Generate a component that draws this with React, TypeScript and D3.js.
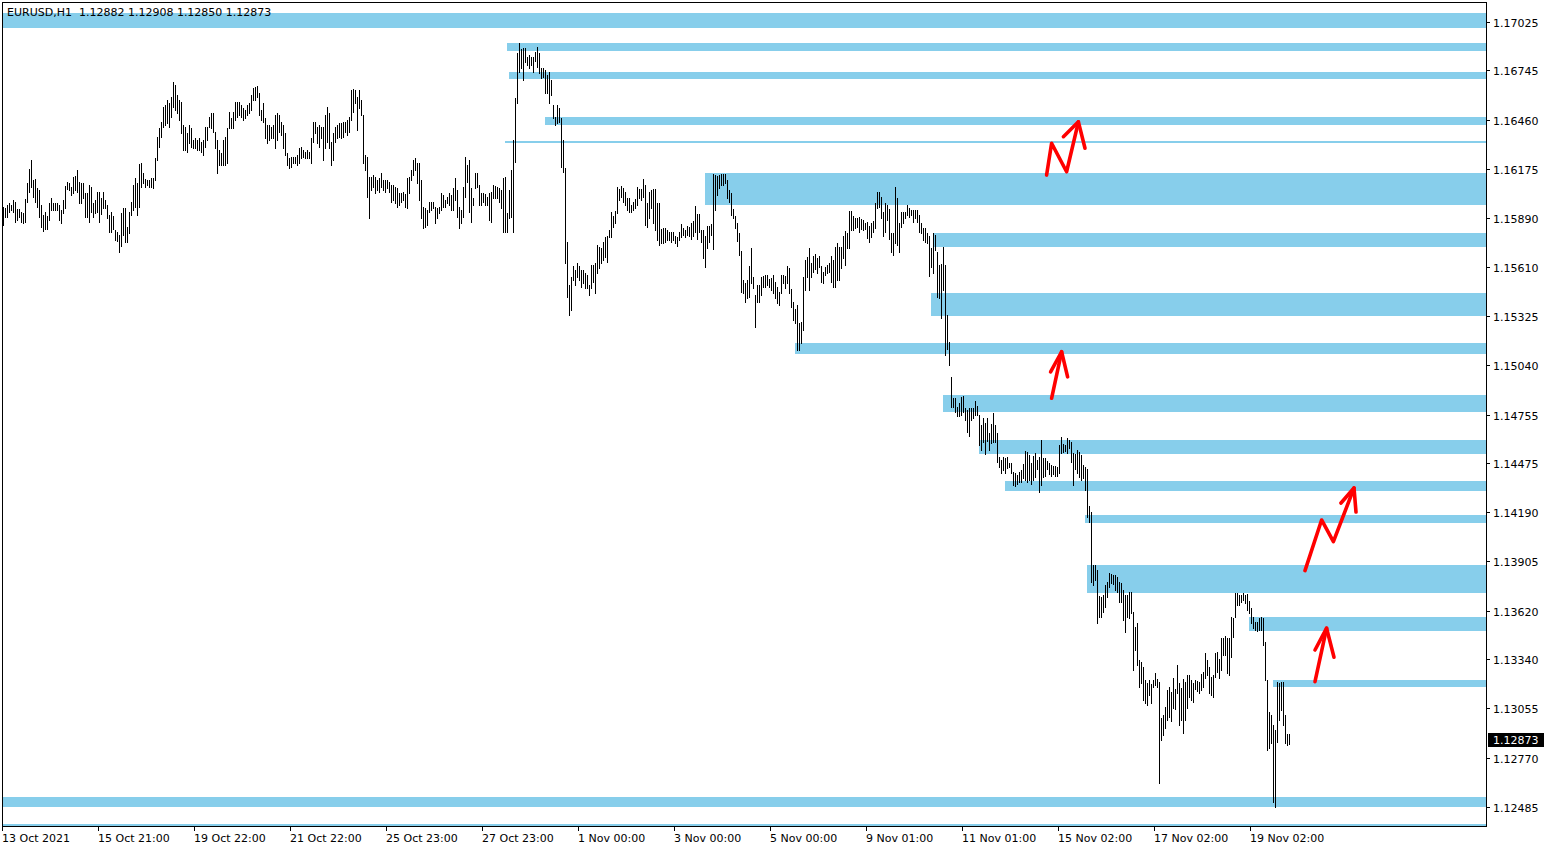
import React from 'react';
import * as d3 from 'd3';

// ---- Chart values (EURUSD H1 bars) ----
const chartTitle = 'EURUSD,H1  1.12882 1.12908 1.12850 1.12873';
const lastPrice = 1.12873;

const highs: number[] = [
  // 0-76
  1.15956, 1.15950, 1.15967, 1.15979, 1.15967, 1.15996, 1.15984, 1.15944, 1.15944, 1.15926,
  1.15921, 1.16001, 1.16094, 1.16175, 1.16227, 1.16111, 1.16117, 1.16065, 1.16053, 1.15967,
  1.15909, 1.15926, 1.15903, 1.15979, 1.16007, 1.15979, 1.15979, 1.15979, 1.15967, 1.15938,
  1.15996, 1.16076, 1.16099, 1.16094, 1.16071, 1.16129, 1.16134, 1.16169, 1.16099, 1.16094,
  1.16094, 1.16036, 1.16036, 1.16082, 1.16071, 1.15979, 1.15996, 1.16041, 1.16041, 1.16007,
  1.16041, 1.15996, 1.15967, 1.15909, 1.15926, 1.15903, 1.15822, 1.15810, 1.15793, 1.15921,
  1.15950, 1.15950, 1.15840, 1.15926, 1.15984, 1.16082, 1.16123, 1.16094, 1.16204, 1.16210,
  1.16152, 1.16117, 1.16111, 1.16111, 1.16123, 1.16123, 1.16239,
  // 77-197
  1.16360, 1.16412, 1.16446, 1.16533, 1.16545, 1.16574, 1.16557, 1.16592, 1.16678, 1.16661,
  1.16603, 1.16574, 1.16562, 1.16429, 1.16418, 1.16383, 1.16429, 1.16412, 1.16343, 1.16354,
  1.16343, 1.16354, 1.16331, 1.16343, 1.16418, 1.16418, 1.16476, 1.16499, 1.16499, 1.16389,
  1.16343, 1.16285, 1.16268, 1.16343, 1.16360, 1.16412, 1.16504, 1.16470, 1.16504, 1.16562,
  1.16562, 1.16562, 1.16545, 1.16528, 1.16516, 1.16545, 1.16557, 1.16603, 1.16644, 1.16649,
  1.16655, 1.16615, 1.16516, 1.16557, 1.16470, 1.16429, 1.16429, 1.16418, 1.16429, 1.16487,
  1.16499, 1.16487, 1.16446, 1.16429, 1.16383, 1.16268, 1.16239, 1.16245, 1.16245, 1.16245,
  1.16256, 1.16297, 1.16302, 1.16285, 1.16273, 1.16285, 1.16273, 1.16354, 1.16446, 1.16446,
  1.16418, 1.16429, 1.16418, 1.16418, 1.16487, 1.16533, 1.16499, 1.16331, 1.16383, 1.16418,
  1.16429, 1.16441, 1.16441, 1.16446, 1.16446, 1.16458, 1.16476, 1.16632, 1.16638, 1.16632,
  1.16592, 1.16632, 1.16574, 1.16487, 1.16256, 1.16245, 1.16129, 1.16129, 1.16140, 1.16129,
  1.16111, 1.16123, 1.16152, 1.16111, 1.16111, 1.16111, 1.16099, 1.16082, 1.16082, 1.16071,
  1.16065,
  // 198-255
  1.16036, 1.16036, 1.16041, 1.16030, 1.16123, 1.16129, 1.16169, 1.16227, 1.16239, 1.16210,
  1.16210, 1.16111, 1.15956, 1.15950, 1.15938, 1.15984, 1.15984, 1.15984, 1.15956, 1.15950,
  1.15956, 1.16036, 1.16024, 1.15996, 1.16013, 1.16036, 1.16024, 1.16065, 1.16123, 1.16053,
  1.15956, 1.15938, 1.16071, 1.16245, 1.16198, 1.16227, 1.16065, 1.16007, 1.16152, 1.16152,
  1.16082, 1.16036, 1.16036, 1.16030, 1.16013, 1.16036, 1.16041, 1.16082, 1.16076, 1.16071,
  1.16065, 1.16053, 1.16123, 1.16129, 1.15921, 1.16053, 1.16169, 1.16343,
  // 256-280
  1.16586, 1.16846, 1.16904, 1.16869, 1.16875, 1.16875, 1.16823, 1.16834, 1.16823, 1.16823,
  1.16851, 1.16880, 1.16846, 1.16759, 1.16759, 1.16747, 1.16718, 1.16736, 1.16690, 1.16545,
  1.16476, 1.16545, 1.16528, 1.16470, 1.16343,
  // 281-373
  1.16181, 1.15752, 1.15504, 1.15550, 1.15614, 1.15591, 1.15632, 1.15614, 1.15591, 1.15591,
  1.15574, 1.15562, 1.15504, 1.15620, 1.15620, 1.15632, 1.15735, 1.15723, 1.15718, 1.15752,
  1.15781, 1.15787, 1.15822, 1.15926, 1.15903, 1.15932, 1.16071, 1.16059, 1.16076, 1.16065,
  1.16041, 1.16007, 1.16007, 1.15967, 1.15984, 1.16001, 1.16071, 1.16059, 1.16059, 1.16117,
  1.16082, 1.15979, 1.16041, 1.16053, 1.16059, 1.16059, 1.15979, 1.15979, 1.15828, 1.15834,
  1.15834, 1.15822, 1.15810, 1.15810, 1.15810, 1.15787, 1.15781, 1.15810, 1.15857, 1.15834,
  1.15822, 1.15845, 1.15840, 1.15863, 1.15874, 1.15961, 1.15915, 1.15915, 1.15822, 1.15822,
  1.15787, 1.15845, 1.15845, 1.15857, 1.16146, 1.16140, 1.16134, 1.16140, 1.16146, 1.16146,
  1.16146, 1.16111, 1.16053, 1.16036, 1.15944, 1.15903, 1.15863, 1.15805, 1.15701, 1.15533,
  1.15516, 1.15533, 1.15614,
  // 374-471
  1.15718, 1.15550, 1.15446, 1.15504, 1.15504, 1.15550, 1.15556, 1.15562, 1.15562, 1.15539,
  1.15545, 1.15562, 1.15521, 1.15493, 1.15464, 1.15562, 1.15562, 1.15556, 1.15614, 1.15603,
  1.15481, 1.15406, 1.15365, 1.15388, 1.15284, 1.15290, 1.15550, 1.15649, 1.15666, 1.15718,
  1.15632, 1.15672, 1.15683, 1.15660, 1.15672, 1.15614, 1.15579, 1.15608, 1.15620, 1.15632,
  1.15672, 1.15649, 1.15723, 1.15747, 1.15723, 1.15723, 1.15787, 1.15816, 1.15805, 1.15932,
  1.15932, 1.15903, 1.15892, 1.15892, 1.15898, 1.15886, 1.15880, 1.15863, 1.15868, 1.15845,
  1.15863, 1.15874, 1.15979, 1.16041, 1.16041, 1.16013, 1.15926, 1.15979, 1.15967, 1.15944,
  1.15805, 1.15805, 1.16071, 1.16007, 1.15863, 1.15926, 1.15926, 1.15926, 1.15967, 1.15950,
  1.15938, 1.15938, 1.15938, 1.15938, 1.15909, 1.15863, 1.15834, 1.15834, 1.15805, 1.15787,
  1.15718, 1.15805, 1.15793, 1.15694, 1.15620, 1.15626, 1.15723, 1.15620,
  // 472-543
  1.15330, 1.15174, 1.14972, 1.14851, 1.14851, 1.14798, 1.14822, 1.14856, 1.14862, 1.14793,
  1.14781, 1.14793, 1.14793, 1.14793, 1.14833, 1.14804, 1.14752, 1.14694, 1.14735, 1.14706,
  1.14735, 1.14648, 1.14700, 1.14764, 1.14694, 1.14648, 1.14509, 1.14492, 1.14509, 1.14504,
  1.14509, 1.14475, 1.14475, 1.14423, 1.14417, 1.14405, 1.14423, 1.14434, 1.14469, 1.14544,
  1.14538, 1.14521, 1.14475, 1.14515, 1.14533, 1.14492, 1.14509, 1.14608, 1.14504, 1.14504,
  1.14486, 1.14475, 1.14463, 1.14457, 1.14457, 1.14452, 1.14579, 1.14625, 1.14584, 1.14579,
  1.14619, 1.14608, 1.14596, 1.14533, 1.14527, 1.14550, 1.14538, 1.14521, 1.14463, 1.14452,
  1.14440, 1.14226,
  // 544-643
  1.14191, 1.13885, 1.13885, 1.13856, 1.13706, 1.13700, 1.13711, 1.13769, 1.13786, 1.13838,
  1.13833, 1.13827, 1.13827, 1.13816, 1.13786, 1.13781, 1.13740, 1.13711, 1.13711, 1.13729,
  1.13729, 1.13613, 1.13526, 1.13550, 1.13335, 1.13323, 1.13294, 1.13220, 1.13202, 1.13220,
  1.13197, 1.13220, 1.13260, 1.13225, 1.13208, 1.13000, 1.13017, 1.13063, 1.13162, 1.13179,
  1.13150, 1.13231, 1.13168, 1.13306, 1.13202, 1.13173, 1.13225, 1.13208, 1.13248, 1.13248,
  1.13220, 1.13202, 1.13220, 1.13214, 1.13208, 1.13254, 1.13266, 1.13375, 1.13335, 1.13294,
  1.13237, 1.13248, 1.13375, 1.13381, 1.13341, 1.13462, 1.13462, 1.13474, 1.13462, 1.13462,
  1.13584, 1.13578, 1.13723, 1.13723, 1.13711, 1.13711, 1.13723, 1.13711, 1.13717, 1.13677,
  1.13636, 1.13584, 1.13555, 1.13555, 1.13578, 1.13584, 1.13578, 1.13439, 1.13220, 1.13034,
  1.13017, 1.12959, 1.12930, 1.13208, 1.13202, 1.13208, 1.13208, 1.13017, 1.12907, 1.12908,
];

const lows: number[] = [
  // 0-76
  1.15851, 1.15898, 1.15898, 1.15926, 1.15938, 1.15926, 1.15868, 1.15880, 1.15898, 1.15868,
  1.15863, 1.15868, 1.15984, 1.16041, 1.16071, 1.16013, 1.15984, 1.15956, 1.15898, 1.15840,
  1.15816, 1.15828, 1.15828, 1.15880, 1.15938, 1.15938, 1.15938, 1.15938, 1.15880, 1.15863,
  1.15921, 1.15950, 1.16059, 1.16053, 1.16024, 1.16036, 1.16053, 1.16041, 1.15979, 1.15979,
  1.16007, 1.15898, 1.15898, 1.15868, 1.15926, 1.15898, 1.15921, 1.15926, 1.15868, 1.15915,
  1.15950, 1.15950, 1.15892, 1.15810, 1.15810, 1.15828, 1.15764, 1.15758, 1.15694, 1.15729,
  1.15793, 1.15752, 1.15752, 1.15805, 1.15909, 1.15938, 1.15956, 1.15909, 1.15956, 1.16071,
  1.16094, 1.16071, 1.16082, 1.16071, 1.16071, 1.16065, 1.16111,
  // 77-197
  1.16227, 1.16302, 1.16360, 1.16418, 1.16429, 1.16441, 1.16418, 1.16476, 1.16533, 1.16516,
  1.16499, 1.16458, 1.16383, 1.16285, 1.16285, 1.16273, 1.16326, 1.16302, 1.16297, 1.16297,
  1.16285, 1.16285, 1.16273, 1.16256, 1.16302, 1.16343, 1.16418, 1.16412, 1.16389, 1.16297,
  1.16152, 1.16198, 1.16198, 1.16198, 1.16198, 1.16210, 1.16412, 1.16412, 1.16412, 1.16458,
  1.16476, 1.16487, 1.16476, 1.16458, 1.16470, 1.16487, 1.16499, 1.16516, 1.16574, 1.16574,
  1.16592, 1.16487, 1.16458, 1.16446, 1.16354, 1.16326, 1.16343, 1.16354, 1.16354, 1.16297,
  1.16343, 1.16389, 1.16372, 1.16297, 1.16256, 1.16198, 1.16181, 1.16187, 1.16210, 1.16210,
  1.16198, 1.16210, 1.16239, 1.16245, 1.16239, 1.16239, 1.16239, 1.16210, 1.16331, 1.16383,
  1.16326, 1.16302, 1.16354, 1.16227, 1.16297, 1.16331, 1.16297, 1.16198, 1.16227, 1.16331,
  1.16354, 1.16360, 1.16354, 1.16360, 1.16389, 1.16372, 1.16389, 1.16458, 1.16504, 1.16557,
  1.16400, 1.16528, 1.16487, 1.16210, 1.16169, 1.16013, 1.15892, 1.16053, 1.16071, 1.16036,
  1.16053, 1.16041, 1.16071, 1.16053, 1.16041, 1.16065, 1.16041, 1.15984, 1.15996, 1.15979,
  1.15956,
  // 198-255
  1.15967, 1.15984, 1.15996, 1.15956, 1.15950, 1.16036, 1.16111, 1.16140, 1.16169, 1.16094,
  1.15996, 1.15892, 1.15834, 1.15840, 1.15851, 1.15926, 1.15938, 1.15950, 1.15863, 1.15892,
  1.15921, 1.15938, 1.15956, 1.15956, 1.15979, 1.15967, 1.15938, 1.15938, 1.15996, 1.15898,
  1.15834, 1.15863, 1.15898, 1.16013, 1.16099, 1.15926, 1.15868, 1.15967, 1.16065, 1.16071,
  1.15967, 1.15967, 1.15984, 1.15967, 1.15967, 1.15880, 1.15868, 1.16007, 1.16007, 1.16007,
  1.15984, 1.15950, 1.15810, 1.15810, 1.15810, 1.15892, 1.15898, 1.15810,
  // 256-280
  1.16216, 1.16557, 1.16736, 1.16759, 1.16690, 1.16793, 1.16776, 1.16759, 1.16776, 1.16736,
  1.16799, 1.16765, 1.16730, 1.16701, 1.16707, 1.16615, 1.16615, 1.16557, 1.16603, 1.16470,
  1.16429, 1.16441, 1.16446, 1.16187, 1.16158,
  // 281-373
  1.15632, 1.15435, 1.15330, 1.15359, 1.15533, 1.15504, 1.15550, 1.15533, 1.15493, 1.15516,
  1.15487, 1.15487, 1.15446, 1.15487, 1.15521, 1.15458, 1.15574, 1.15603, 1.15632, 1.15649,
  1.15666, 1.15637, 1.15781, 1.15781, 1.15840, 1.15863, 1.15921, 1.15996, 1.16013, 1.15984,
  1.15967, 1.15938, 1.15926, 1.15926, 1.15938, 1.15950, 1.15967, 1.16007, 1.15996, 1.16013,
  1.15851, 1.15840, 1.15892, 1.15950, 1.15863, 1.15822, 1.15764, 1.15735, 1.15747, 1.15747,
  1.15752, 1.15764, 1.15764, 1.15752, 1.15764, 1.15747, 1.15729, 1.15764, 1.15781, 1.15793,
  1.15781, 1.15793, 1.15787, 1.15770, 1.15787, 1.15810, 1.15770, 1.15810, 1.15752, 1.15660,
  1.15608, 1.15718, 1.15752, 1.15793, 1.15712, 1.15938, 1.16024, 1.16065, 1.16082, 1.16082,
  1.16094, 1.16007, 1.15984, 1.15909, 1.15892, 1.15834, 1.15758, 1.15677, 1.15464, 1.15458,
  1.15406, 1.15429, 1.15435,
  // 374-471
  1.15516, 1.15487, 1.15261, 1.15406, 1.15406, 1.15446, 1.15493, 1.15493, 1.15504, 1.15493,
  1.15475, 1.15458, 1.15429, 1.15400, 1.15388, 1.15458, 1.15516, 1.15487, 1.15516, 1.15458,
  1.15377, 1.15302, 1.15284, 1.15128, 1.15128, 1.15168, 1.15244, 1.15475, 1.15550, 1.15475,
  1.15550, 1.15579, 1.15597, 1.15574, 1.15608, 1.15521, 1.15516, 1.15562, 1.15574, 1.15579,
  1.15521, 1.15493, 1.15493, 1.15533, 1.15533, 1.15603, 1.15660, 1.15620, 1.15718, 1.15718,
  1.15822, 1.15822, 1.15834, 1.15840, 1.15810, 1.15828, 1.15822, 1.15828, 1.15776, 1.15752,
  1.15781, 1.15810, 1.15834, 1.15950, 1.15956, 1.15892, 1.15787, 1.15810, 1.15880, 1.15770,
  1.15695, 1.15677, 1.15747, 1.15735, 1.15695, 1.15840, 1.15863, 1.15892, 1.15909, 1.15898,
  1.15909, 1.15868, 1.15892, 1.15868, 1.15810, 1.15805, 1.15764, 1.15752, 1.15747, 1.15556,
  1.15608, 1.15574, 1.15706, 1.15435, 1.15429, 1.15313, 1.15475, 1.15099,
  // 472-543
  1.15134, 1.15041, 1.14798, 1.14798, 1.14769, 1.14746, 1.14746, 1.14752, 1.14769, 1.14723,
  1.14654, 1.14631, 1.14723, 1.14735, 1.14752, 1.14752, 1.14579, 1.14550, 1.14596, 1.14527,
  1.14602, 1.14550, 1.14590, 1.14596, 1.14596, 1.14480, 1.14452, 1.14417, 1.14434, 1.14417,
  1.14446, 1.14452, 1.14417, 1.14347, 1.14341, 1.14353, 1.14364, 1.14364, 1.14388, 1.14376,
  1.14364, 1.14376, 1.14353, 1.14376, 1.14394, 1.14440, 1.14307, 1.14347, 1.14394, 1.14399,
  1.14440, 1.14411, 1.14399, 1.14411, 1.14399, 1.14399, 1.14417, 1.14533, 1.14538, 1.14544,
  1.14533, 1.14562, 1.14480, 1.14347, 1.14440, 1.14417, 1.14394, 1.14376, 1.14388, 1.14318,
  1.14162, 1.14133,
  // 544-643
  1.13786, 1.13769, 1.13798, 1.13550, 1.13584, 1.13584, 1.13613, 1.13642, 1.13700, 1.13758,
  1.13781, 1.13775, 1.13740, 1.13729, 1.13671, 1.13671, 1.13567, 1.13497, 1.13584, 1.13578,
  1.13607, 1.13277, 1.13393, 1.13306, 1.13179, 1.13202, 1.13104, 1.13087, 1.13075, 1.13133,
  1.13087, 1.13179, 1.13191, 1.13179, 1.12624, 1.12873, 1.12901, 1.12942, 1.12988, 1.13005,
  1.12982, 1.13058, 1.13052, 1.13145, 1.12959, 1.12988, 1.12913, 1.12988, 1.13058, 1.13121,
  1.13104, 1.13092, 1.13168, 1.13156, 1.13145, 1.13162, 1.13179, 1.13231, 1.13248, 1.13145,
  1.13133, 1.13121, 1.13237, 1.13266, 1.13231, 1.13277, 1.13364, 1.13364, 1.13260, 1.13248,
  1.13352, 1.13468, 1.13584, 1.13653, 1.13653, 1.13671, 1.13682, 1.13665, 1.13624, 1.13607,
  1.13550, 1.13520, 1.13509, 1.13503, 1.13509, 1.13509, 1.13422, 1.13220, 1.12815, 1.12826,
  1.12855, 1.12514, 1.12485, 1.12861, 1.12988, 1.13046, 1.12959, 1.12855, 1.12844, 1.12850,
];

// Time axis labels and the bar index each sits on
const timeTickBars = [0, 48, 96, 144, 192, 240, 288, 336, 384, 432, 480, 528, 576, 624];
const timeTickLabels = [
  '13 Oct 2021', '15 Oct 21:00', '19 Oct 22:00', '21 Oct 22:00', '25 Oct 23:00',
  '27 Oct 23:00', '1 Nov 00:00', '3 Nov 00:00', '5 Nov 00:00', '9 Nov 01:00',
  '11 Nov 01:00', '15 Nov 02:00', '17 Nov 02:00', '19 Nov 02:00',
];

// Price axis labels
const priceTicks = [
  1.17025, 1.16745, 1.1646, 1.16175, 1.1589, 1.1561, 1.15325, 1.1504, 1.14755,
  1.14475, 1.1419, 1.13905, 1.1362, 1.1334, 1.13055, 1.1277, 1.12485,
];

// Support / resistance zones: first bar, upper price, lower price
const zoneStartBar = [0, 252, 253, 271, 251, 351, 465, 464, 396, 470, 488, 501, 541, 542, 623, 635, 0, 0];
const zoneHigh = [
  1.17077, 1.16904, 1.16736, 1.16476, 1.16337, 1.16152, 1.15805, 1.15458, 1.15169,
  1.14868, 1.14608, 1.1437, 1.14173, 1.13885, 1.13584, 1.1322, 1.12543, 1.12387,
];
const zoneLow = [
  1.1699, 1.16857, 1.16695, 1.16429, 1.16326, 1.15967, 1.15723, 1.15325, 1.15105,
  1.1477, 1.14527, 1.14312, 1.14127, 1.13723, 1.13503, 1.13179, 1.12485, 1.12375,
];

// Hand-drawn red arrows: [bar, price] points (shaft polyline, head polyline)
const arrowShafts: [number, number][][] = [
  [[521.8, 1.1614], [524.3, 1.16324], [531.8, 1.16159], [537.7, 1.16448]],
  [[524.3, 1.14849], [529.3, 1.15118]],
  [[651, 1.13852], [659.3, 1.14145], [665.2, 1.1402], [675.5, 1.1433]],
  [[656, 1.1321], [661.8, 1.13519]],
];
const arrowHeads: [number, number][][] = [
  [[530.2, 1.16362], [537.7, 1.16448], [541, 1.16295]],
  [[523.8, 1.15002], [529.3, 1.15118], [532.3, 1.14973]],
  [[669, 1.14243], [675.5, 1.1433], [676.5, 1.14191]],
  [[656, 1.13393], [661.8, 1.13519], [665.5, 1.13351]],
];

const FONT = '"DejaVu Sans", Verdana, sans-serif';

export default function App() {
  const W = 1550;
  const H = 850;
  const plotLeft = 2;
  const plotRight = 1486;
  const plotTop = 2;
  const plotBottom = 826;

  const x = d3.scaleLinear().domain([0, 643]).range([3, 1289]);
  const y = d3.scaleLinear().domain([1.12375, 1.17141]).range([plotBottom, plotTop]);

  const line = d3
    .line<[number, number]>()
    .x((d) => x(d[0]))
    .y((d) => y(d[1]));

  const lastY = y(lastPrice);

  return (
    <svg
      width={W}
      height={H}
      style={{ position: 'absolute', left: 0, top: 0, display: 'block', background: '#fff' }}
      fontFamily={FONT}
    >
      <rect x={0} y={0} width={W} height={H} fill="#ffffff" />

      {/* zones */}
      <g shapeRendering="crispEdges">
        {zoneStartBar.map((s, k) => {
          const x0 = s === 0 ? plotLeft + 1 : Math.round(x(s));
          const y0 = Math.round(y(zoneHigh[k]));
          const y1 = Math.round(y(zoneLow[k]));
          return (
            <rect
              key={k}
              x={x0}
              y={y0}
              width={plotRight - x0}
              height={Math.max(2, y1 - y0)}
              fill="#87CEEB"
            />
          );
        })}
      </g>

      {/* bars */}
      <g stroke="#000" strokeWidth={1} shapeRendering="crispEdges">
        {highs.map((h, i) => {
          const xx = Math.round(x(i)) + 0.5;
          return <line key={i} x1={xx} x2={xx} y1={Math.round(y(h))} y2={Math.round(y(lows[i])) + 1} />;
        })}
      </g>

      {/* red arrows */}
      <g fill="none" stroke="#ff0000" strokeWidth={3.6} strokeLinecap="round" strokeLinejoin="round">
        {arrowShafts.map((a, k) => (
          <path key={'s' + k} d={line(a) || ''} />
        ))}
        {arrowHeads.map((a, k) => (
          <path key={'h' + k} d={line(a) || ''} />
        ))}
      </g>

      {/* frame */}
      <rect
        x={plotLeft + 0.5}
        y={plotTop + 0.5}
        width={plotRight - plotLeft}
        height={plotBottom - plotTop}
        fill="none"
        stroke="#000"
        strokeWidth={1}
        shapeRendering="crispEdges"
      />

      {/* price axis */}
      <g fontSize={11} fill="#000">
        {priceTicks.map((p) => {
          const yy = Math.round(y(p)) + 0.5;
          return (
            <g key={p}>
              <line x1={plotRight} x2={plotRight + 4} y1={yy} y2={yy} stroke="#000" shapeRendering="crispEdges" />
              <text x={plotRight + 7} y={yy + 1} dy="0.36em">
                {p.toFixed(5)}
              </text>
            </g>
          );
        })}
        <rect x={plotRight + 2} y={Math.round(lastY) - 7} width={56} height={14} fill="#000" />
        <text x={plotRight + 7} y={lastY} dy="0.36em" fill="#fff">
          {lastPrice.toFixed(5)}
        </text>
      </g>

      {/* time axis */}
      <g fontSize={11} fill="#000">
        {timeTickBars.map((b, k) => {
          const xx = Math.round(x(b)) - 1;
          return (
            <g key={b}>
              <line x1={xx + 0.5} x2={xx + 0.5} y1={plotBottom} y2={plotBottom + 5} stroke="#000" shapeRendering="crispEdges" />
              <text x={Math.max(2, xx)} y={plotBottom + 16}>
                {timeTickLabels[k]}
              </text>
            </g>
          );
        })}
      </g>

      {/* title */}
      <text x={7} y={16} fontSize={11} fill="#000" style={{ whiteSpace: 'pre' }}>
        {chartTitle}
      </text>
    </svg>
  );
}
